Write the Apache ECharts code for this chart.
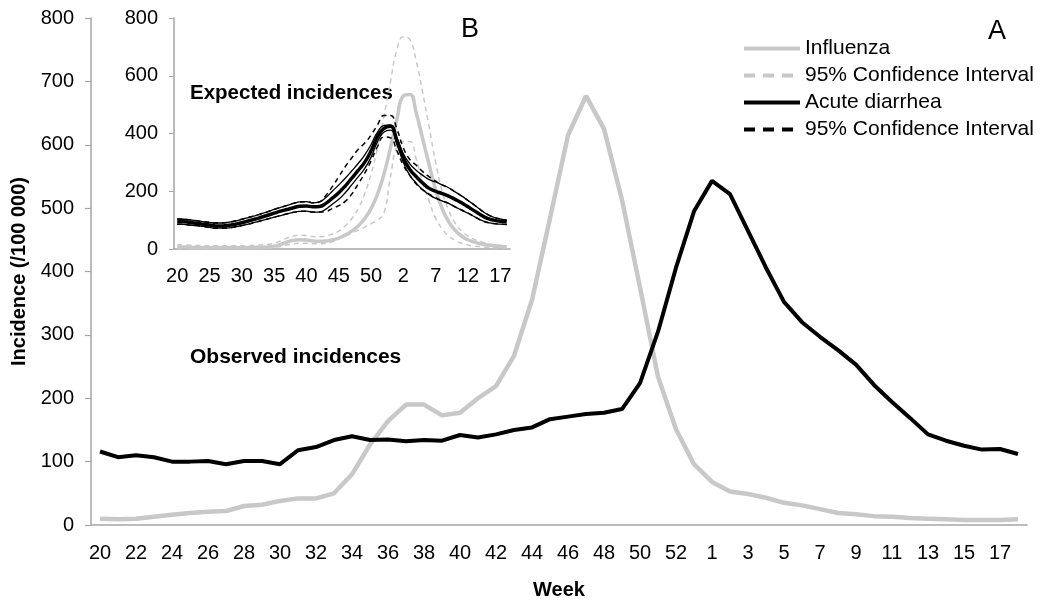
<!DOCTYPE html>
<html>
<head>
<meta charset="utf-8">
<script src="https://cdn.jsdelivr.net/npm/echarts@6/dist/echarts.min.js"></script>
<style>html,body{margin:0;padding:0;background:#fff}#c{width:1040px;height:605px}</style>
</head>
<body>
<div id="c"></div>
<script>
// ISO weeks of season 2009/2010 (week 53 included)
const weeks = ['20','21','22','23','24','25','26','27','28','29','30','31','32','33','34','35','36','37','38','39','40','41','42','43','44','45','46','47','48','49','50','51','52','53','1','2','3','4','5','6','7','8','9','10','11','12','13','14','15','16','17','18'];

// Panel A: observed incidences (/100 000)
const influenzaObserved = [10,9,10,13,16,19,21,22,30,32,38,42,42,50,80,127,164,190,190,173,177,200,219,267,355,484,615,677,625,513,375,234,151,96,68,53,49,43,35,31,25,19,17,14,13,11,10,9,8,8,8,9];
const diarrheaObserved = [116,107,110,107,100,100,101,96,101,101,96,118,123,134,140,134,135,132,134,133,142,138,143,150,154,167,171,175,177,183,224,305,406,495,543,522,464,406,352,320,297,276,253,221,194,169,143,133,125,119,120,112];

// Panel B: expected incidences
const influenzaExpected = [8,7,6,5,5,4,4,4,4,4,4,5,6,6,7,10,16,24,30,32,31,28,27,28,32,38,48,62,80,105,140,190,260,350,450,530,535,470,380,290,205,140,95,65,45,32,24,18,14,11,9,8];
const influenzaCIHigh = [15,14,13,12,12,11,11,11,11,11,11,12,13,14,16,20,28,38,45,48,47,43,42,45,52,62,80,105,140,190,260,350,460,580,690,735,725,650,540,420,300,200,135,90,62,45,33,25,19,15,13,12];
const influenzaCILow = [3,3,2,2,2,1,1,1,1,1,1,2,2,2,3,5,9,14,18,20,20,18,18,20,25,35,45,55,65,75,88,100,125,250,355,372,372,310,230,165,105,70,45,30,20,14,10,8,6,5,4,4];
const diarrheaExpected = [95,94,92,89,86,83,80,80,82,86,91,97,103,110,117,124,131,137,143,148,149,146,147,158,176,195,218,245,272,300,340,390,418,425,375,315,275,250,228,210,200,192,183,172,160,146,132,118,106,100,96,94];
const diarrheaUpper = [104,103,101,98,95,92,90,90,93,97,103,109,115,122,129,137,144,151,158,163,164,160,163,178,200,222,245,270,296,325,362,405,428,430,385,330,295,272,255,240,232,222,212,198,184,168,152,135,120,110,104,100];
const diarrheaLower = [86,85,83,81,78,75,72,72,73,77,81,86,92,98,104,110,116,122,127,130,131,128,128,138,155,172,195,222,250,278,318,372,405,412,362,300,255,228,205,188,175,167,158,146,135,124,112,100,92,88,86,85];
const diarrheaCIHigh = [104,103,101,98,95,92,90,90,93,97,103,109,115,122,129,137,144,151,158,163,164,160,163,185,216,250,285,315,345,366,395,430,462,462,415,350,310,290,268,250,235,222,212,198,184,168,152,135,120,110,104,100];
const diarrheaCILow = [86,85,83,81,78,75,72,72,73,77,81,86,92,98,104,110,116,122,127,130,131,128,128,130,140,150,165,190,225,262,305,355,388,385,340,290,255,225,205,190,178,167,158,146,135,124,112,100,92,88,86,85];

const mainYTicks = [0,100,200,300,400,500,600,700,800];
const insetYTicks = [0,200,400,600,800];

const GREY = '#c8c8c8';
const AXIS = '#a6a6a6';
const FONT = 'Liberation Sans, Arial, sans-serif';

const chart = echarts.init(document.getElementById('c'), null, {renderer: 'canvas'});

function line(name, data, axis, color, width, type, smooth, z) {
  return {
    name: name, type: 'line', data: data,
    xAxisIndex: axis, yAxisIndex: axis,
    symbol: 'none', smooth: smooth, z: z,
    lineStyle: {color: color, width: width, type: type},
    itemStyle: {color: color},
    emphasis: {disabled: true},
    animation: false
  };
}

const noSymbol = {opacity: 0};

const option = {
  animation: false,
  textStyle: {fontFamily: FONT},
  grid: [
    {left: 91, right: 13, top: 18, height: 512},
    {left: 174, top: 18, width: 336, height: 231}
  ],
  xAxis: [
    {
      type: 'category', gridIndex: 0, data: weeks, boundaryGap: true,
      name: 'Week', nameLocation: 'middle', nameGap: 55,
      nameTextStyle: {fontFamily: FONT, fontSize: 20, fontWeight: 'bold', color: '#000'},
      axisLine: {lineStyle: {color: AXIS, width: 1.5}},
      axisTick: {interval: 0, length: 6, lineStyle: {color: AXIS, width: 1.2}},
      axisLabel: {interval: 1, margin: 18, fontSize: 20, color: '#000', fontFamily: FONT},
      splitLine: {show: false}
    },
    {
      type: 'category', gridIndex: 1, data: weeks, boundaryGap: true,
      axisLine: {lineStyle: {color: AXIS, width: 1.5}},
      axisTick: {interval: 0, length: 5, lineStyle: {color: AXIS, width: 1}},
      axisLabel: {interval: 4, margin: 17, fontSize: 20, color: '#000', fontFamily: FONT},
      splitLine: {show: false}
    }
  ],
  yAxis: [
    {
      type: 'value', gridIndex: 0, min: mainYTicks[0], max: mainYTicks[mainYTicks.length - 1], interval: 100,
      name: 'Incidence (/100 000)', nameLocation: 'middle', nameGap: 61,
      nameTextStyle: {fontFamily: FONT, fontSize: 20, fontWeight: 'bold', color: '#000'},
      axisLine: {show: true, lineStyle: {color: AXIS, width: 1.5}},
      axisTick: {show: true, length: 6, lineStyle: {color: AXIS, width: 1.2}},
      axisLabel: {margin: 17, fontSize: 20, color: '#000', fontFamily: FONT},
      splitLine: {show: false}
    },
    {
      type: 'value', gridIndex: 1, min: insetYTicks[0], max: insetYTicks[insetYTicks.length - 1], interval: 200,
      axisLine: {show: true, lineStyle: {color: AXIS, width: 1.5}},
      axisTick: {show: true, length: 5, lineStyle: {color: AXIS, width: 1}},
      axisLabel: {margin: 16, fontSize: 20, color: '#000', fontFamily: FONT},
      splitLine: {show: false}
    }
  ],
  legend: {
    orient: 'vertical', left: 742, top: 38, padding: 0,
    itemWidth: 56, itemHeight: 14, itemGap: 6,
    textStyle: {fontFamily: FONT, fontSize: 21, color: '#000', lineHeight: 21},
    formatter: function (n) { return (n === 'Influenza CI' || n === 'Diarrhea CI') ? '95% Confidence Interval' : n; },
    data: [
      {name: 'Influenza', itemStyle: noSymbol, lineStyle: {width: 4, color: GREY}},
      {name: 'Influenza CI', itemStyle: noSymbol, lineStyle: {width: 4, color: GREY, type: [11, 8]}},
      {name: 'Acute diarrhea', itemStyle: noSymbol, lineStyle: {width: 4, color: '#000'}},
      {name: 'Diarrhea CI', itemStyle: noSymbol, lineStyle: {width: 4, color: '#000', type: [11, 8]}}
    ],
    selectedMode: false
  },
  series: [
    line('Influenza', influenzaObserved, 0, GREY, 4.5, 'solid', false, 2),
    line('Acute diarrhea', diarrheaObserved, 0, '#000', 4, 'solid', false, 3),
    line('Influenza CI', influenzaCIHigh, 1, GREY, 1.5, [5, 4], true, 2),
    line('Influenza CI', influenzaCILow, 1, GREY, 1.5, [5, 4], true, 2),
    line('Influenza expected', influenzaExpected, 1, GREY, 3.5, 'solid', true, 2),
    line('Diarrhea band', diarrheaUpper, 1, '#000', 1.3, 'solid', true, 3),
    line('Diarrhea band', diarrheaLower, 1, '#000', 1.3, 'solid', true, 3),
    line('Diarrhea CI', diarrheaCIHigh, 1, '#000', 1.5, [5, 4], true, 3),
    line('Diarrhea CI', diarrheaCILow, 1, '#000', 1.5, [5, 4], true, 3),
    line('Diarrhea expected', diarrheaExpected, 1, '#000', 3.5, 'solid', true, 4)
  ],
  graphic: [
    {type: 'text', left: 461, top: 16, style: {text: 'B', font: '27px ' + FONT, fill: '#000'}},
    {type: 'text', left: 988, top: 18, style: {text: 'A', font: '27px ' + FONT, fill: '#000'}},
    {type: 'text', left: 190, top: 83, style: {text: 'Expected incidences', font: 'bold 20.5px ' + FONT, fill: '#000'}},
    {type: 'text', left: 190, top: 347, style: {text: 'Observed incidences', font: 'bold 21px ' + FONT, fill: '#000'}}
  ]
};
chart.setOption(option);
</script>
</body>
</html>
